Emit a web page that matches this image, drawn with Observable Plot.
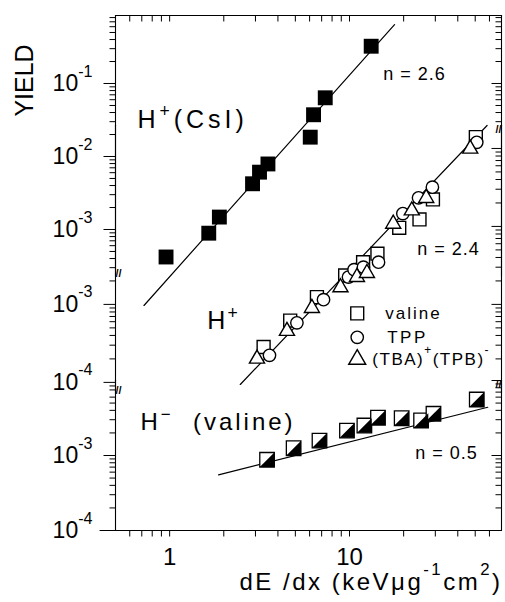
<!DOCTYPE html>
<html><head><meta charset="utf-8">
<script src="https://cdn.jsdelivr.net/npm/d3@7"></script>
<script src="https://cdn.jsdelivr.net/npm/@observablehq/plot@0.6"></script>
<style>
html,body{margin:0;padding:0;background:#fff;}
#chart{width:505px;height:602px;overflow:hidden;background:#fff;}
</style></head><body><div id="chart"></div>
<script>
// ---------------- data ----------------
// H+ from CsI (filled squares)
const csiX = [0.955, 1.65, 1.89, 2.89, 3.16, 3.52, 6.05, 6.31, 7.33, 13.2];
const csiY = [4.2e-4, 8.9e-4, 1.48e-3, 4.23e-3, 6.1e-3, 7.9e-3, 1.84e-2, 3.73e-2, 6.37e-2, 0.324];
// H+ from organics
const valineX = [3.33, 4.68, 6.59, 9.46, 11.9, 14.3, 18.9, 24.5, 29.1, 50.4];
const valineY = [2.84e-4, 6.2e-4, 1.24e-3, 2.35e-3, 3.48e-3, 4.47e-3, 9.6e-3, 1.23e-2, 2.22e-2, 0.14];
const tppX = [3.59, 5.10, 7.17, 9.87, 10.6, 11.95, 14.5, 19.8, 24.2, 28.9, 51.0];
const tppY = [2.22e-4, 5.8e-4, 1.15e-3, 2.24e-3, 2.79e-3, 3.0e-3, 3.48e-3, 1.46e-2, 2.33e-2, 3.19e-2, 0.12];
const tbaX = [3.06, 4.49, 6.18, 8.91, 11.0, 12.5, 17.5, 22.2, 26.7, 46.9];
const tbaY = [2.01e-4, 4.55e-4, 8.97e-4, 1.65e-3, 2.24e-3, 2.52e-3, 1.08e-2, 1.6e-2, 2.31e-2, 9.9e-2];
// H- from valine (half-filled squares)
const negX = [3.48, 4.89, 6.81, 9.68, 12.1, 14.4, 19.5, 25.0, 29.3, 51.0];
const negY = [8.77e-4, 1.25e-3, 1.58e-3, 2.15e-3, 2.51e-3, 3.19e-3, 3.14e-3, 2.93e-3, 3.6e-3, 5.58e-3];
// fitted power-law lines (end points)
const fitCsIX = [0.72, 17.8], fitCsIY = [9.1e-5, 0.64];
const fitOrgX = [2.47, 58.2], fitOrgY = [9.4e-5, 0.197];
const fitNegX = [1.87, 58.7], fitNegY = [5.53e-4, 4.4e-3];
// legend
const legendNames = ["valine", "TPP", "(TBA)^^{+}(TPB)^^{-}"];
// scales / axis extents
const xDomain = [0.5, 70];
const xAxisStart = 0.41;
const yDomainA = [2.27e-4, 0.854];
const yDomainB = [7.2e-5, 0.197];
const yDomainC = [1e-4, 1e-2];
const rightBreakA = 0.027, leftBreakB = 2.29e-3, rightBreakB = 1.1e-4, leftBreakC = 6.7e-3;
const xTickLabels = [1, 10];
const xTitle = "dE /dx (keVμg^^{-1}cm^^{2})";
const yTitle = "YIELD";

// ---------------- helpers ----------------
const zip = (xs, ys) => xs.map((x, i) => ({x, y: ys[i]}));
const logTicks = (lo, hi) => d3.scaleLog().domain([lo, hi]).ticks().filter(d => d >= lo * 0.999 && d <= hi * 1.001);
const isMajor = d => Math.abs(Math.log10(d) - Math.round(Math.log10(d))) < 1e-6;
const font = "'Liberation Sans', Arial, sans-serif";
const W = 505;
const spacing = {
  "H^{+}(CsI)": 4, "H^{+}": 2, "H^{−}\u00a0\u00a0(valine)": 3,
  "n = 2.6": 1, "n = 2.4": 1, "n = 0.5": 1,
  "valine": 2, "TPP": 2.5, "(TBA)^^{+}(TPB)^^{-}": 1.5,
  [xTitle]: 2.5
};
const tickSym = (dx, dy) => ({draw(ctx) { ctx.moveTo(0, 0); ctx.lineTo(dx, dy); }});
const halfSquare = {draw(ctx, size) { const s = Math.sqrt(size) / 2; ctx.moveTo(s, -s); ctx.lineTo(s, s); ctx.lineTo(-s, s); ctx.closePath(); }};
const xTicks = logTicks(...xDomain).filter(d => d > xDomain[0] && d < xDomain[1]);
const tickStyle = {fill: "none", stroke: "black", strokeWidth: 1};

function base(h, mt, mb, yDomain) {
  return {
    width: W, height: h, marginLeft: 115, marginRight: 4, marginTop: mt, marginBottom: mb,
    x: {type: "log", domain: xDomain, axis: null},
    y: {type: "log", domain: yDomain, axis: null},
    style: {fontFamily: font, background: "transparent", overflow: "visible", color: "black"}
  };
}
// vertical frame sides of a panel
const sides = (yDom) => [
  Plot.line([{x: xDomain[0], y: yDom[0]}, {x: xDomain[0], y: yDom[1]}], {x: "x", y: "y", stroke: "black", strokeWidth: 1.1}),
  Plot.line([{x: xDomain[1], y: yDom[0]}, {x: xDomain[1], y: yDom[1]}], {x: "x", y: "y", stroke: "black", strokeWidth: 1.1})
];
function leftAxis(vals) {
  return [
    Plot.dot(vals.filter(d => !isMajor(d)), {x: xDomain[0], y: d => d, symbol: tickSym(-6, 0), ...tickStyle}),
    Plot.dot(vals.filter(isMajor), {x: xDomain[0], y: d => d, symbol: tickSym(-12, 0), ...tickStyle}),
    Plot.axisY(vals.filter(isMajor), {anchor: "left", tickSize: 0, tickPadding: 23, fontSize: 23, label: null,
      tickFormat: d => `10^^{-${Math.round(-Math.log10(d))}}`})
  ];
}
function rightTicks(vals) {
  return [
    Plot.dot(vals.filter(d => !isMajor(d)), {x: xDomain[1], y: d => d, symbol: tickSym(-6, 0), ...tickStyle}),
    Plot.dot(vals.filter(isMajor), {x: xDomain[1], y: d => d, symbol: tickSym(-10, 0), ...tickStyle})
  ];
}
const breakMark = (anchor) => Plot.text(["//"], {text: d => d, frameAnchor: anchor, fontSize: 11, fontWeight: "bold"});
const note = (t, x, y, size) => Plot.text([t], {text: d => d, x, y, fontSize: size, textAnchor: "start"});
const openStyle = {fill: "white", stroke: "black", strokeWidth: 1.4};

function supify(root) {
  const NS = "http://www.w3.org/2000/svg";
  root.querySelectorAll("text").forEach(el => {
    const raw = el.textContent;
    if (raw in spacing) el.style.letterSpacing = spacing[raw] + "px";
    if (!raw.includes("{")) return;
    const fs = parseFloat(getComputedStyle(el).fontSize) || 16;
    while (el.firstChild) el.removeChild(el.firstChild);
    const re = /(\^\^?)\{([^}]*)\}/g;
    let last = 0, shift = 0, m;
    const push = (txt, sup, raise) => {
      const t = document.createElementNS(NS, "tspan");
      t.textContent = txt;
      if (sup) { t.setAttribute("font-size", (fs * 0.7).toFixed(1)); t.setAttribute("dy", (-raise - shift).toFixed(1)); shift = -raise; }
      else if (shift) { t.setAttribute("dy", (-shift).toFixed(1)); shift = 0; }
      el.appendChild(t);
    };
    while ((m = re.exec(raw))) {
      if (m.index > last) push(raw.slice(last, m.index), false);
      push(m[2], true, (m[1] === "^^" ? 0.62 : 0.42) * fs);
      last = re.lastIndex;
    }
    if (last < raw.length) push(raw.slice(last), false);
  });
}

// one root SVG; each panel's Plot output is moved into a translated group
const NS = "http://www.w3.org/2000/svg";
const root = document.createElementNS(NS, "svg");
root.setAttribute("width", W); root.setAttribute("height", 602); root.setAttribute("viewBox", `0 0 ${W} 602`);
root.style.display = "block"; root.style.background = "#fff"; root.style.color = "black";
document.getElementById("chart").appendChild(root);
function place(svg, top) {
  const g = document.createElementNS(NS, "g");
  for (const a of Array.from(svg.attributes)) {
    if (["width", "height", "viewBox", "style"].includes(a.name) || a.name.startsWith("xmlns")) continue;
    g.setAttribute(a.name, a.value);
  }
  g.setAttribute("transform", `translate(0,${top})`);
  g.style.fontFamily = font;
  g.style.color = "black";
  while (svg.firstChild) g.appendChild(svg.firstChild);
  root.appendChild(g);
  supify(g);
}

// ---------------- panel A: H+ (CsI) ----------------
const ticksA = logTicks(...yDomainA);
place(Plot.plot({
  ...base(276, 15, 0, yDomainA),
  marks: [
    ...sides(yDomainA),
    Plot.line([{x: xDomain[0], y: yDomainA[1]}, {x: xDomain[1], y: yDomainA[1]}], {x: "x", y: "y", stroke: "black", strokeWidth: 1.1}),
    ...leftAxis(ticksA),
    ...rightTicks(ticksA.filter(d => d >= rightBreakA)),
    Plot.dot(xTicks, {x: d => d, y: yDomainA[1], symbol: tickSym(0, 6), ...tickStyle}),
    Plot.line(zip(fitCsIX, fitCsIY), {x: "x", y: "y", strokeWidth: 1.2}),
    Plot.dot(zip(csiX, csiY), {x: "x", y: "y", symbol: "square", r: 8.4, fill: "black"}),
    breakMark("bottom-left"),
    note("H^{+}(CsI)", 0.662, 0.0321, 25),
    note("n = 2.6", 15.4, 0.135, 18),
    Plot.text([yTitle], {text: d => d, x: 0.156, y: 0.11, rotate: -90, fontSize: 25})
  ]
}), 0);

// ---------------- panel B: H+ (organics) ----------------
const ticksB = logTicks(...yDomainB);
place(Plot.plot({
  ...base(268, 0, 0, yDomainB),
  marks: [
    ...sides(yDomainB),
    ...leftAxis(ticksB.filter(d => d <= leftBreakB)),
    ...rightTicks(ticksB.filter(d => d >= rightBreakB)),
    Plot.line(zip(fitOrgX, fitOrgY), {x: "x", y: "y", strokeWidth: 1.2}),
    Plot.dot(zip(valineX, valineY), {x: "x", y: "y", symbol: "square", r: 7.3, ...openStyle}),
    Plot.dot(zip(tppX, tppY), {x: "x", y: "y", symbol: "circle", r: 6.2, ...openStyle}),
    Plot.dot(zip(tbaX, tbaY), {x: "x", y: "y", symbol: "triangle", r: 5.6, ...openStyle}),
    breakMark("bottom-left"),
    breakMark("top-right"),
    note("H^{+}", 1.62, 6.1e-4, 25),
    note("n = 2.4", 23.8, 5.07e-3, 18),
    // legend
    Plot.dot([legendNames[0]], {x: 11.04, y: 7.67e-4, symbol: "square", r: 7.3, ...openStyle}),
    Plot.dot([legendNames[1]], {x: 11.04, y: 3.78e-4, symbol: "circle", r: 6.2, ...openStyle}),
    Plot.dot([legendNames[2]], {x: 11.04, y: 1.97e-4, symbol: "triangle", r: 6.3, ...openStyle}),
    Plot.text(legendNames, {text: d => d, x: [15.8, 16.2, 13.4], y: [7.67e-4, 3.78e-4, 1.97e-4], fontSize: 17, textAnchor: "start"})
  ]
}), 125);

// ---------------- panel C: H- (valine) ----------------
const ticksC = logTicks(...yDomainC);
place(Plot.plot({
  ...base(222, 0, 72, yDomainC),
  marks: [
    ...sides(yDomainC),
    Plot.line([{x: xAxisStart, y: yDomainC[0]}, {x: xDomain[1], y: yDomainC[0]}], {x: "x", y: "y", stroke: "black", strokeWidth: 1.1}),
    ...leftAxis(ticksC.filter(d => d <= leftBreakC)),
    ...rightTicks(ticksC),
    Plot.dot(xTicks, {x: d => d, y: yDomainC[0], symbol: tickSym(0, 6), ...tickStyle}),
    Plot.axisX(xTicks.filter(d => xTickLabels.includes(d)), {anchor: "bottom", tickSize: 0, tickPadding: 17, fontSize: 24, label: null,
      tickFormat: d => String(d)}),
    Plot.line(zip(fitNegX, fitNegY), {x: "x", y: "y", strokeWidth: 1.2}),
    Plot.dot(zip(negX, negY), {x: "x", y: "y", symbol: "square", r: 8.2, fill: "white", stroke: "black", strokeWidth: 1.3}),
    Plot.dot(zip(negX, negY), {x: "x", y: "y", symbol: halfSquare, r: 8.2, fill: "black"}),
    breakMark("top-right"),
    note("H^{−}\u00a0\u00a0(valine)", 0.688, 2.8e-3, 24),
    note("n = 0.5", 23.2, 1.08e-3, 18),
    Plot.text([xTitle], {text: d => d, frameAnchor: "bottom-right", dy: 59, dx: 1, textAnchor: "end", fontSize: 24})
  ]
}), 380);
</script></body></html>
